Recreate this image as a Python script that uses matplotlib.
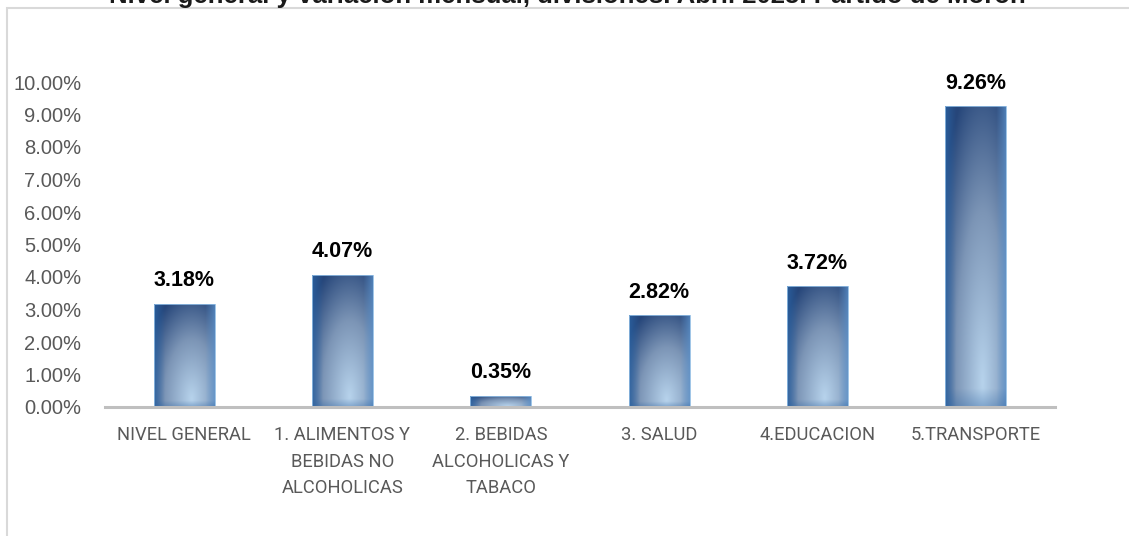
import numpy as np
import matplotlib
matplotlib.use("Agg")
import matplotlib.pyplot as plt
from matplotlib.colors import to_rgb
from matplotlib.patches import Rectangle

categories = ["NIVEL GENERAL", "1. ALIMENTOS Y\nBEBIDAS NO\nALCOHOLICAS",
              "2. BEBIDAS\nALCOHOLICAS Y\nTABACO", "3. SALUD", "4.EDUCACION", "5.TRANSPORTE"]
values = [3.18, 4.07, 0.35, 2.82, 3.72, 9.26]
yticks = [0, 1, 2, 3, 4, 5, 6, 7, 8, 9, 10]
title = "Nivel general y variación mensual, divisiones. Abril 2025. Partido de Morón"

W, H = 1129, 536
fig = plt.figure(figsize=(W / 100, H / 100), dpi=100)
fig.patch.set_facecolor("white")

# outer chart border (extends beyond right/bottom edges)
fig.add_artist(Rectangle((7 / W, -0.1), 1.2, 1 - 8 / H + 0.1, transform=fig.transFigure,
                         fill=False, edgecolor="#d9d9d9", linewidth=1.5))

fig.text(567 / W, 1 - 3.5 / H, title, ha="center", va="baseline", fontsize=18.5,
         fontweight="bold", family="Liberation Sans", color="#1a1a1a")

ax = fig.add_axes([105 / W, 1 - 407 / H, (1055 - 105) / W, (407 - 82) / H])
x = np.arange(len(values))
bars = ax.bar(x, values, width=0.385, color="none", edgecolor="#8fbbe3", linewidth=0.6, zorder=3)

# gradient fill (normalized to each bar)
ny, nx = 200, 60
u = np.linspace(0, 1, nx)[None, :]
v = np.linspace(1, 0, ny)[:, None]  # top row first
light = np.array(to_rgb("#b7d3ec"))
mid = np.array(to_rgb("#7c95b6"))
dark = np.array(to_rgb("#26467a"))
edge_l = np.array(to_rgb("#2a63a3"))
edge_r = np.array(to_rgb("#5d93cc"))
d = np.sqrt(((u - 0.62) / 0.75) ** 2 + ((v - 0.08) / 0.95) ** 2)
t1 = np.clip(d / 0.6, 0, 1)[..., None]
t2 = np.clip((d - 0.6) / 0.5, 0, 1)[..., None]
col = light * (1 - t1) + mid * t1
col = col * (1 - t2) + dark * t2
el = np.clip((0.18 - u) / 0.18, 0, 1)[..., None] * 0.75
er = np.clip((u - 0.85) / 0.15, 0, 1)[..., None] * 0.7
col = col * (1 - el) + edge_l * el
col = col * (1 - er) + edge_r * er
eb = np.clip((0.06 - v) / 0.06, 0, 1)[..., None] * 0.35
col = col * (1 - eb) + edge_l * eb
col = np.clip(col, 0, 1)

for b in bars:
    h = b.get_height()
    x0 = b.get_x(); w = b.get_width()
    im = ax.imshow(col, extent=[x0, x0 + w, 0, h], aspect="auto", zorder=2,
                   interpolation="bilinear")
    im.set_clip_path(b)
ax.set_xlim(-0.5, len(values) - 0.5)
ax.set_ylim(0, 10)

for xi, val in zip(x, values):
    ax.annotate(f"{val:.2f}%", (xi, val), xytext=(0, 9), textcoords="offset points",
                ha="center", va="bottom", fontsize=15.5, fontweight="bold",
                family="Liberation Sans", color="black")

for s in ["top", "right", "left"]:
    ax.spines[s].set_visible(False)
ax.spines["bottom"].set_color("#bfbfbf")
ax.spines["bottom"].set_linewidth(2.2)
ax.spines["bottom"].set_zorder(4)

ax.set_yticks(yticks)
ax.set_yticklabels([f"{t:.2f}%" for t in yticks], fontsize=14.5, family="Liberation Sans",
                   color="#595959")
ax.set_xticks(x)
ax.set_xticklabels(categories, fontsize=13.2, family="Roboto", color="#595959",
                   linespacing=1.6, va="top")
ax.tick_params(axis="y", length=0, pad=17)
ax.tick_params(axis="x", length=0, pad=14)
ax.set_facecolor("none")

fig.savefig("out.png", dpi=100, facecolor="white")
